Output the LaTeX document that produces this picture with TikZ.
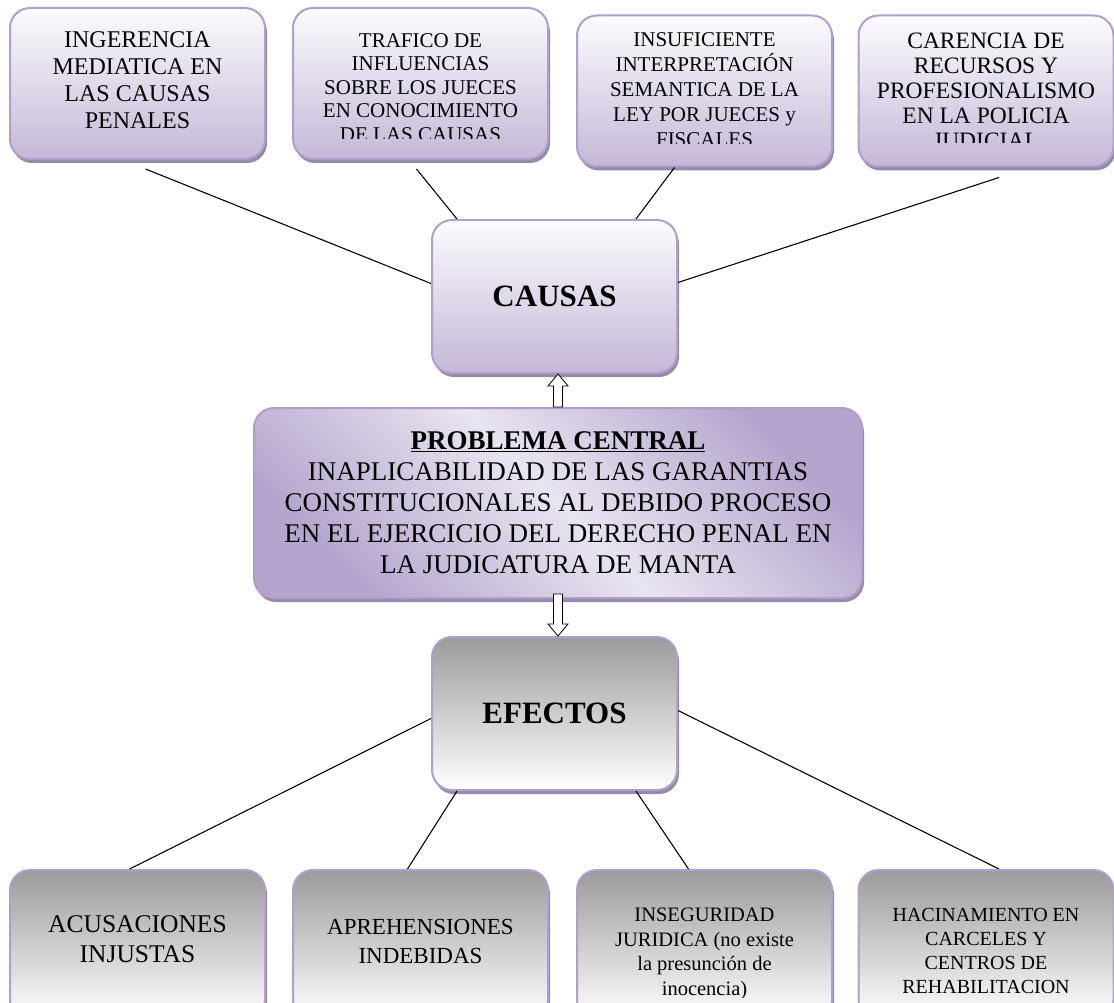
\documentclass[tikz,border=0pt]{standalone}
\usepackage{fontspec}
\setmainfont{Liberation Serif}
\usetikzlibrary{shadows,calc}

\definecolor{lavborde}{RGB}{176,158,204}
\definecolor{lavclaro}{RGB}{252,251,253}
\definecolor{lavoscuro}{RGB}{197,184,216}
\definecolor{lavfuerte}{RGB}{181,165,205}
\definecolor{lavmedio}{RGB}{233,228,240}
\definecolor{grisoscuro}{RGB}{155,155,155}
\definecolor{sombra}{RGB}{150,138,165}

\begin{document}
\begin{tikzpicture}[x=1pt,y=-1pt,
    caja/.style={draw=lavborde, line width=2pt, rounded corners=20pt, inner sep=0pt,
      drop shadow={shadow xshift=2pt, shadow yshift=-4pt, fill=sombra, opacity=1}},
    causa/.style={caja, top color=lavclaro, bottom color=lavoscuro,
      minimum width=255pt, minimum height=151pt},
    efecto/.style={caja, top color=grisoscuro, bottom color=white,
      minimum width=255pt, minimum height=150pt},
    texto/.style={inner sep=0pt, align=center, anchor=north},
    linea/.style={line width=1.1pt},
    flecha/.style={draw=black, fill=white, line width=0.8pt}]
  \useasboundingbox (0,0) rectangle (1114,1003);

  % causas
  \node[causa] (c1) at (137.5,83.5) {};
  \node[causa] (c2) at (420.5,83.5) {};
  \node[causa] (c3) at (704.5,91) {};
  \node[causa] (c4) at (986,91) {};
  \begin{scope}
    \clip (c1.north west) rectangle ([yshift=16pt]c1.south east);
    \node[texto, font=\fontsize{24}{27}\selectfont] (c1t) at ([yshift=-24pt]c1.north)
      {INGERENCIA\\MEDIATICA EN\\LAS CAUSAS\\PENALES};
  \end{scope}
  \begin{scope}
    \clip (c2.north west) rectangle ([yshift=21pt]c2.south east);
    \node[texto, font=\fontsize{21}{23.5}\selectfont] (c2t) at ([yshift=-26pt]c2.north)
      {TRAFICO DE\\INFLUENCIAS\\SOBRE LOS JUECES\\EN CONOCIMIENTO\\DE LAS CAUSAS};
  \end{scope}
  \begin{scope}
    \clip (c3.north west) rectangle ([yshift=24pt]c3.south east);
    \node[texto, font=\fontsize{21}{25}\selectfont] (c3t) at ([yshift=-18pt]c3.north)
      {INSUFICIENTE\\INTERPRETACIÓN\\SEMANTICA DE LA\\LEY POR JUECES y\\FISCALES};
  \end{scope}
  \begin{scope}
    \clip (c4.north west) rectangle ([yshift=25pt]c4.south east);
    \node[texto, font=\fontsize{23.5}{25}\selectfont] (c4t) at ([yshift=-18pt]c4.north)
      {CARENCIA DE\\RECURSOS Y\\PROFESIONALISMO\\EN LA POLICIA\\JUDICIAL};
  \end{scope}

  \node[caja, top color=lavclaro, bottom color=lavoscuro, minimum width=245pt,
    minimum height=153pt, font=\fontsize{31}{36}\selectfont\bfseries] (causas)
    at (554.5,296.5) {CAUSAS};

  % problema central
  \node[caja, top color=lavfuerte, bottom color=lavfuerte, middle color=lavmedio,
    shading angle=-45, minimum width=608pt, minimum height=190pt, align=center,
    font=\fontsize{27}{31}\selectfont] (prob) at (558,503)
    {\underline{\textbf{PROBLEMA CENTRAL}}\\INAPLICABILIDAD DE LAS GARANTIAS\\
     CONSTITUCIONALES AL DEBIDO PROCESO\\EN EL EJERCICIO DEL DERECHO PENAL EN\\
     LA JUDICATURA DE MANTA};

  % efectos
  \node[efecto, minimum width=245pt, minimum height=153pt,
    font=\fontsize{31}{36}\selectfont\bfseries] (efectos) at (554.5,713.5) {EFECTOS};
  \node[efecto] (e1) at (137.5,945) {};
  \node[efecto] (e2) at (420.5,945) {};
  \node[efecto] (e3) at (704.5,945) {};
  \node[efecto] (e4) at (986,945) {};
  \begin{scope}
    \clip (e1.north west) rectangle ([yshift=24pt]e4.south east);
    \node[texto, font=\fontsize{25.5}{30}\selectfont] (e1t) at ([yshift=-46pt]e1.north)
      {ACUSACIONES\\INJUSTAS};
    \node[texto, font=\fontsize{23}{29}\selectfont] (e2t) at ([yshift=-50pt]e2.north)
      {APREHENSIONES\\INDEBIDAS};
    \node[texto, font=\fontsize{20.5}{24.5}\selectfont] (e3t) at ([yshift=-39pt]e3.north)
      {INSEGURIDAD\\JURIDICA (no existe\\la presunción de\\inocencia)};
    \node[texto, font=\fontsize{20}{24}\selectfont] (e4t) at ([yshift=-39pt]e4.north)
      {HACINAMIENTO EN\\CARCELES Y\\CENTROS DE\\REHABILITACION};
  \end{scope}

  % lineas
  \draw[linea] ([shift={(8pt,-9pt)}]c1.south) -- ([yshift=13pt]causas.west);
  \draw[linea] ([shift={(-4pt,-9pt)}]c2.south) -- ([xshift=26pt]causas.north west);
  \draw[linea] ([xshift=-30pt]c3.south) -- ([xshift=-42pt]causas.north east);
  \draw[linea] ([shift={(13pt,-10pt)}]c4.south) -- ([yshift=14pt]causas.east);
  \draw[linea] ([yshift=-5pt]efectos.west) -- ([xshift=-8pt]e1.north);
  \draw[linea] ([xshift=26pt]efectos.south west) -- ([xshift=-13pt]e2.north);
  \draw[linea] ([xshift=-42pt]efectos.south east) -- ([xshift=-16pt]e3.north);
  \draw[linea] ([yshift=3pt]efectos.east) -- ([xshift=13pt]e4.north);

  % flechas
  \coordinate (puntaarriba) at (prob.north |- causas.south);
  \coordinate (puntaabajo) at (prob.south |- efectos.north);
  \draw[flecha] ($(prob.north)+(-4.5,0)$) -- ($(puntaarriba)+(-4.5,12)$)
    -- ($(puntaarriba)+(-10,12)$) -- (puntaarriba) -- ($(puntaarriba)+(10,12)$)
    -- ($(puntaarriba)+(4.5,12)$) -- ($(prob.north)+(4.5,0)$) -- cycle;
  \draw[flecha] ($(prob.south)+(-4.5,-5)$) -- ($(puntaabajo)+(-4.5,-12)$)
    -- ($(puntaabajo)+(-10,-12)$) -- (puntaabajo) -- ($(puntaabajo)+(10,-12)$)
    -- ($(puntaabajo)+(4.5,-12)$) -- ($(prob.south)+(4.5,-5)$) -- cycle;
\end{tikzpicture}
\end{document}
